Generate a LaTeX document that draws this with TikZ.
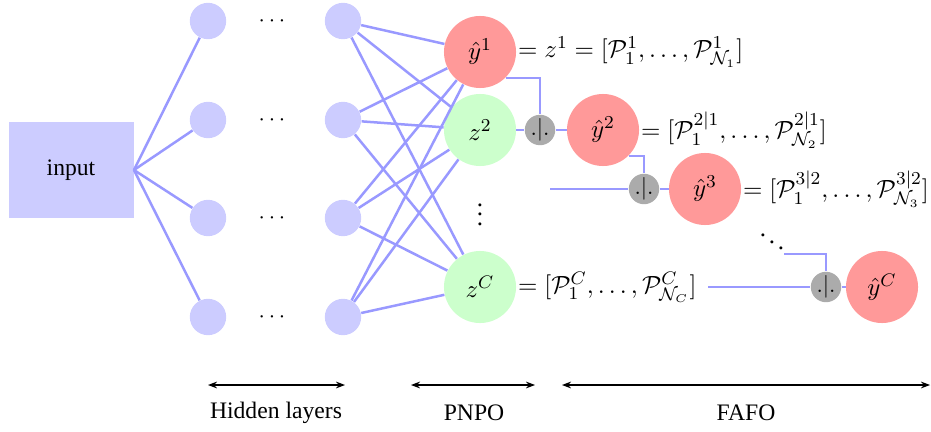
\documentclass[tikz,border=0pt]{standalone}
\usepackage{fontspec}
\setmainfont{Liberation Serif}
\newfontfamily\tnr{Liberation Serif}
\usetikzlibrary{arrows.meta}
\begin{document}
\begin{tikzpicture}[x=0.44pt,y=-0.44pt,
  hid/.style={circle,fill=blue!20,minimum size=16pt,inner sep=0pt},
  redn/.style={circle,fill=red!40,minimum size=31.7pt,inner sep=0pt,font=\fontsize{11}{13}\selectfont},
  greenn/.style={circle,fill=green!20,minimum size=31.7pt,inner sep=0pt,font=\fontsize{11}{13}\selectfont},
  gate/.style={circle,fill=black!33,minimum size=13.4pt,inner sep=0pt},
  conn/.style={draw=blue!40,line width=1.1pt},
  eqlabel/.style={anchor=west,inner sep=0.5pt,font=\fontsize{11}{13}\selectfont},
  txt/.style={font=\tnr\fontsize{10.4}{12}\selectfont},
  span/.style={{Stealth[length=4pt,width=3pt]}-{Stealth[length=4pt,width=3pt]},line width=0.5pt}]
\useasboundingbox (0,0) rectangle (931,432);
% input
\node[txt,fill=blue!20,minimum width=55pt,minimum height=42pt,inner sep=0pt] (in) at (71,170) {input};
% hidden layers
\foreach \i/\y in {1/21,2/120,3/218,4/317}{
  \node[hid] (a\i) at (208,\y) {};
  \node (d\i) at (272,\y) {$\cdots$};
  \node[hid] (b\i) at (343,\y) {};
}
% outputs
\node[redn] (y1) at (480,52) {$\hat{y}^1$};
\node[greenn] (z2) at (480,130) {$z^2$};
\node[font=\fontsize{11}{13}\selectfont] (vd) at (480,208) {$\vdots$};
\node[greenn] (zC) at (480,287) {$z^C$};
% connections
\foreach \i in {1,...,4}{
  \draw[conn] (in.east) -- (a\i);
  \foreach \t in {y1,z2,zC}{
    \draw[conn] (b\i) -- (\t);
  }
}
% FAFO chain
\node[gate] (g2) at (540,130) {$.|.$};
\node[redn] (y2) at (603,130) {$\hat{y}^2$};
\node[gate] (g3) at (644,189) {$.|.$};
\node[redn] (y3) at (705,189) {$\hat{y}^3$};
\node[font=\fontsize{11}{13}\selectfont] (dd) at (772,235) {$\ddots$};
\node[gate] (gC) at (826,287) {$.|.$};
\node[redn] (yC) at (882,287) {$\hat{y}^C$};
\coordinate (s3) at (550,189);
\coordinate (sC) at (784,254);
\coordinate (eC) at (708,287);
\draw[conn] (y1.south east) -| (g2.north);
\draw[conn] (z2) -- (g2);
\draw[conn] (g2) -- (y2);
\draw[conn] (y2.south east) -| (g3.north);
\draw[conn] (s3) -- (g3);
\draw[conn] (g3) -- (y3);
\draw[conn] (sC) -| (gC.north);
\draw[conn] (eC) -- (gC);
\draw[conn] (gC) -- (yC);
% equations
\node[eqlabel] (e1) at (y1.east) {$= z^1 = [\mathcal{P}_1^1,\ldots,\mathcal{P}^1_{\mathcal{N}_1}]$};
\node[eqlabel] (e2) at (y2.east) {$= [\mathcal{P}_1^{2|1},\ldots,\mathcal{P}^{2|1}_{\mathcal{N}_2}]$};
\node[eqlabel] (e3) at (y3.east) {$= [\mathcal{P}_1^{3|2},\ldots,\mathcal{P}^{3|2}_{\mathcal{N}_3}]$};
\node[eqlabel] (eCt) at (zC.east) {$= [\mathcal{P}_1^{C},\ldots,\mathcal{P}^{C}_{\mathcal{N}_C}]$};
% spans
\coordinate (h1) at (208,385); \coordinate (h2) at (345,385);
\coordinate (p1) at (411,385); \coordinate (p2) at (535,385);
\coordinate (f1) at (562,385); \coordinate (f2) at (930,385);
\draw[span] (h1) -- (h2);
\draw[span] (p1) -- (p2);
\draw[span] (f1) -- (f2);
\node[txt] (lh) at (276,413) {Hidden layers};
\node[txt] (lp) at (474,413) {PNPO};
\node[txt] (lf) at (746,413) {FAFO};
\end{tikzpicture}
\end{document}
